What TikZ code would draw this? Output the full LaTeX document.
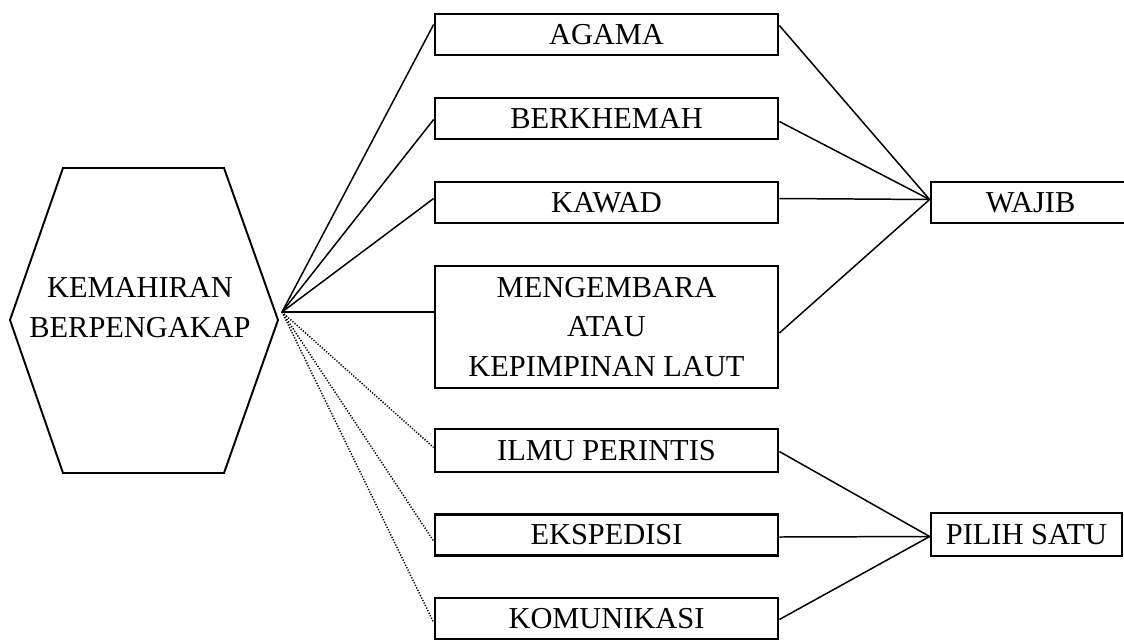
\documentclass[tikz,border=0pt]{standalone}
\usepackage{fontspec}
\setmainfont{Liberation Serif}
\usetikzlibrary{calc}

\begin{document}
\begin{tikzpicture}[x=0.02cm, y=-0.02cm,
        box/.style={rectangle, draw, line width=1.6pt, inner sep=0pt, align=center,
            minimum width=6.86cm, minimum height=0.82cm,
            font=\fontsize{17.3}{22.7}\selectfont},
        link/.style={line width=0.85pt},
        optlink/.style={line width=0.85pt, dash pattern=on 0.7pt off 0.9pt}]
        \useasboundingbox (0,0) rectangle (1124,639);

        % Hexagon
        \draw[line width=1.1pt] (10,320) -- (63,168) -- (224,168) -- (278,320)
            -- (224,473) -- (63,473) -- cycle;
        \node[align=center, font=\fontsize{17.3}{22.7}\selectfont] (kb) at (140,308)
            {KEMAHIRAN\\BERPENGAKAP};
        \coordinate (hub) at (282,312);

        % Nodes
        \node[box] (agama) at (606.5,34.5) {AGAMA};
        \node[box] (berkhemah) at (606.5,118.5) {BERKHEMAH};
        \node[box] (kawad) at (606.5,202.5) {KAWAD};
        \node[box, minimum height=2.44cm] (mengembara) at (606.5,327)
            {MENGEMBARA\\ATAU\\KEPIMPINAN LAUT};
        \node[box, minimum height=0.86cm] (ilmu) at (606.5,450.5) {ILMU PERINTIS};
        \node[box] (ekspedisi) at (606.5,535) {EKSPEDISI};
        \node[box] (komunikasi) at (606.5,618.5) {KOMUNIKASI};
        \node[box, minimum width=3.98cm] (wajib) at (1030.5,202.5) {WAJIB};
        \node[box, minimum width=3.82cm, minimum height=0.86cm] (pilih) at (1026.5,534.5) {PILIH SATU};

        % Edges to the hexagon
        \draw[link] (hub) -- ($(agama.west)+(0,-10)$);
        \draw[link] (hub) -- ($(berkhemah.west)+(0,1)$);
        \draw[link] (hub) -- ($(kawad.west)+(0,-4)$);
        \draw[link] (hub) -- ($(mengembara.west)+(0,-15)$);

        % Dotted edges for the optional ones
        \draw[optlink] (hub) -- ($(ilmu.west)+(0,-3)$);
        \draw[optlink] (hub) -- ($(ekspedisi.west)+(0,6)$);
        \draw[optlink] (hub) -- ($(komunikasi.west)+(0,4)$);

        % Edges to WAJIB
        \draw[link] ($(agama.east)+(0,-9)$) -- ($(wajib.west)+(0,-3)$);
        \draw[link] ($(berkhemah.east)+(0,3)$) -- ($(wajib.west)+(0,-3)$);
        \draw[link] ($(kawad.east)+(0,-4)$) -- ($(wajib.west)+(0,-3)$);
        \draw[link] ($(mengembara.east)+(0,6)$) -- ($(wajib.west)+(0,-3)$);

        % Edges to PILIH SATU
        \draw[link] ($(ilmu.east)+(0,1)$) -- ($(pilih.west)+(0,2)$);
        \draw[link] ($(ekspedisi.east)+(0,2)$) -- ($(pilih.west)+(0,2)$);
        \draw[link] ($(komunikasi.east)+(0,1)$) -- ($(pilih.west)+(0,2)$);
    \end{tikzpicture}
\end{document}
